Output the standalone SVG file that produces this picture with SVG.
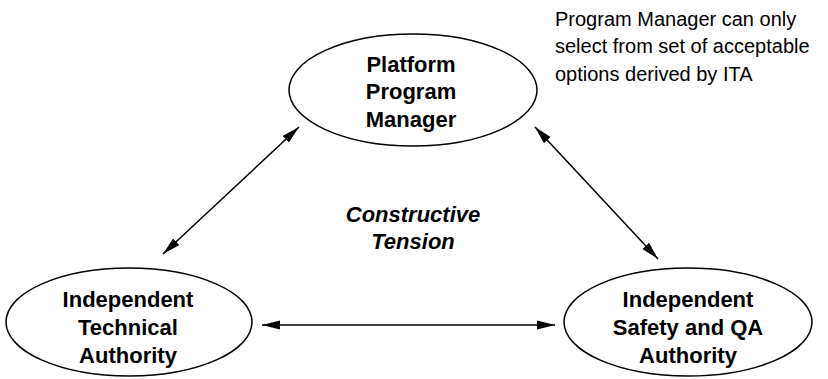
<svg xmlns="http://www.w3.org/2000/svg" width="828" height="379" viewBox="0 0 828 379">
<defs>
<marker id="ah" viewBox="0 0 18 10" refX="18" refY="5" markerWidth="18" markerHeight="10" markerUnits="userSpaceOnUse" orient="auto-start-reverse">
<path d="M0,0.5 L18,5 L0,9.5 z" fill="#000"/>
</marker>
<style>
.node ellipse{fill:#fff;stroke:#000;stroke-width:1.5}
.lbl{font-family:"Liberation Sans",Arial,sans-serif;font-size:22px;font-weight:bold;text-anchor:middle;fill:#000}
.note{font-family:"Liberation Sans",Arial,sans-serif;font-size:20px;fill:#000}
.tension{font-family:"Liberation Sans",Arial,sans-serif;font-size:22px;font-weight:bold;font-style:italic;text-anchor:middle;fill:#000}
.conn line{stroke:#000;stroke-width:1.5;marker-start:url(#ah);marker-end:url(#ah)}
</style>
</defs>
<rect width="828" height="379" fill="#fff"/>
<g id="ppm" class="node">
<ellipse cx="413" cy="90" rx="124" ry="56"/>
<text class="lbl"><tspan x="411" y="72">Platform</tspan><tspan x="411" y="99">Program</tspan><tspan x="411" y="127">Manager</tspan></text>
</g>
<g id="ita" class="node">
<ellipse cx="129" cy="322" rx="123" ry="54"/>
<text class="lbl"><tspan x="128" y="307">Independent</tspan><tspan x="128" y="335">Technical</tspan><tspan x="128" y="363">Authority</tspan></text>
</g>
<g id="isqa" class="node">
<ellipse cx="688" cy="322" rx="124" ry="54"/>
<text class="lbl"><tspan x="688" y="307">Independent</tspan><tspan x="688" y="335">Safety and QA</tspan><tspan x="688" y="363">Authority</tspan></text>
</g>
<g id="connectors" class="conn">
<line x1="163" y1="254" x2="299" y2="127"/>
<line x1="535" y1="127" x2="658" y2="259"/>
<line x1="262" y1="325" x2="555" y2="325"/>
</g>
<g id="tension-label">
<text class="tension"><tspan x="413" y="222">Constructive</tspan><tspan x="413" y="249">Tension</tspan></text>
</g>
<g id="note">
<text class="note"><tspan x="555" y="26">Program Manager can only</tspan><tspan x="555" y="53">select from set of acceptable</tspan><tspan x="555" y="81">options derived by ITA</tspan></text>
</g>
</svg>
